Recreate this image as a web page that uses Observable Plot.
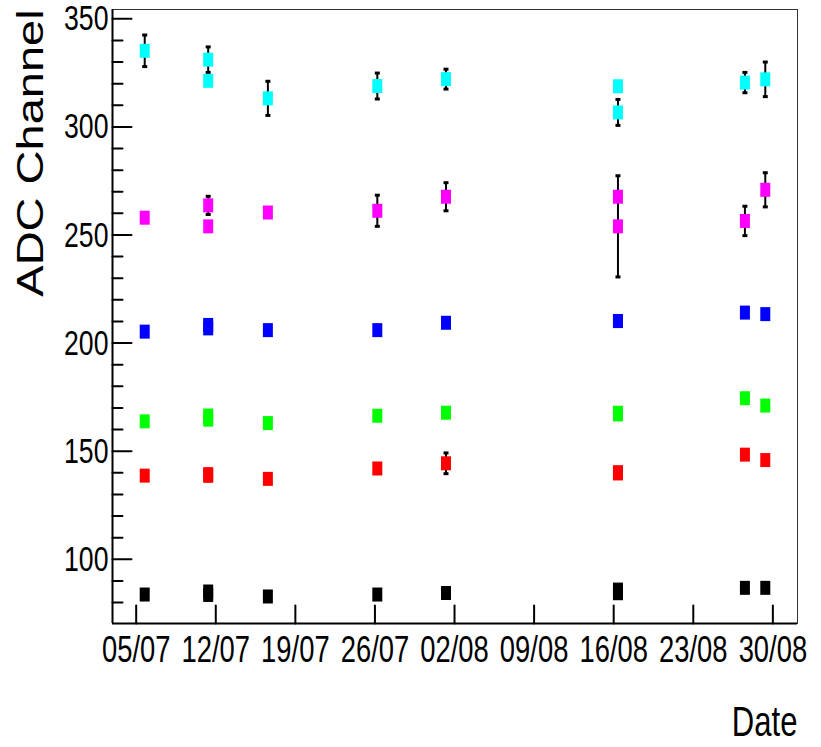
<!DOCTYPE html>
<html>
<head>
<meta charset="utf-8">
<script src="https://cdn.jsdelivr.net/npm/d3@7"></script>
<script src="https://cdn.jsdelivr.net/npm/@observablehq/plot@0.6"></script>
<style>
  html, body { margin: 0; padding: 0; background: #fff; }
  #chart svg { display: block; background: #fff; }
</style>
</head>
<body>
<div id="chart"></div>
<script>
// Measurement times (two readings were taken on 11/07 and on 16/08)
const dates = [
  "2010-07-05T18:00Z", "2010-07-11T08:00Z", "2010-07-11T08:00Z", "2010-07-16T14:00Z",
  "2010-07-26T05:00Z", "2010-08-01T06:00Z", "2010-08-16T09:00Z", "2010-08-16T09:00Z",
  "2010-08-27T13:00Z", "2010-08-29T08:00Z"
];

// One entry per channel, top to bottom
const seriesNames  = ["cyan", "magenta", "blue", "green", "red", "black"];
const seriesColors = ["#00ffff", "#ff00ff", "#0000ff", "#00ff00", "#ff0000", "#000000"];

// ADC peak positions and their uncertainties (0 = no error bar drawn)
const cyanValues    = [335.2, 331.1, 321.3, 313.2, 318.9, 322.1, 318.8, 306.7, 320.5, 322.0];
const cyanErrors    = [7.3, 5.9, 0, 7.9, 6.0, 4.6, 0, 6.0, 4.7, 8.0];
const magentaValues = [258.0, 263.7, 254.0, 260.4, 261.2, 267.7, 267.7, 254.0, 256.5, 270.9];
const magentaErrors = [0, 4.2, 0, 0, 7.2, 6.5, 0, 23.4, 6.8, 7.9];
const blueValues    = [205.3, 208.4, 206.8, 206.0, 206.0, 209.4, 210.2, 210.2, 214.1, 213.4];
const blueErrors    = [0, 0, 0, 0, 0, 0, 0, 0, 0, 0];
const greenValues   = [163.8, 166.5, 164.6, 163.0, 166.4, 167.8, 167.8, 167.0, 174.5, 171.1];
const greenErrors   = [0, 0, 0, 0, 0, 0, 0, 0, 0, 0];
const redValues     = [138.7, 139.4, 138.6, 137.2, 142.0, 144.4, 140.3, 139.7, 148.4, 145.9];
const redErrors     = [0, 0, 0, 0, 0, 4.8, 0, 0, 0, 0];
const blackValues   = [83.7, 85.1, 83.5, 82.8, 83.7, 84.4, 86.0, 84.3, 86.8, 86.8];
const blackErrors   = [0, 0, 0, 0, 0, 0, 0, 0, 0, 0];

// Axes
const xTickDates = ["2010-07-05", "2010-07-12", "2010-07-19", "2010-07-26", "2010-08-02",
                    "2010-08-09", "2010-08-16", "2010-08-23", "2010-08-30"];
const yMajorTicks = [100, 150, 200, 250, 300, 350];
const yMinorTicks = [80, 90, 110, 120, 130, 140, 160, 170, 180, 190, 210, 220, 230, 240,
                     260, 270, 280, 290, 310, 320, 330, 340];
const xDomain = ["2010-07-02T22:00Z", "2010-09-01T04:00Z"];
const yDomain = [70.3, 354.3];
const xLabel = "Date";
const yLabel = "ADC Channel";

const valueSets = [cyanValues, magentaValues, blueValues, greenValues, redValues, blackValues];
const errorSets = [cyanErrors, magentaErrors, blueErrors, greenErrors, redErrors, blackErrors];

const points = [];
seriesNames.forEach((name, s) => {
  valueSets[s].forEach((v, i) => {
    points.push({series: name, color: seriesColors[s], date: new Date(dates[i]), value: v, err: errorSets[s][i]});
  });
});
const withErr = points.filter(d => d.err > 0);
const xTicks = xTickDates.map(d => new Date(d + "T00:00Z"));

// Filled rectangular marker, slightly taller than wide
const boxMarker = {draw(ctx) { ctx.rect(-5, -7, 10, 14); }};
// Small end cap on error bars
const capMarker = {draw(ctx) { ctx.rect(-2.5, -1.5, 5, 3); }};
// Straight tick line for the inward-pointing axis ticks
const tickShape = {draw(ctx, l) { ctx.moveTo(0, 0); ctx.lineTo(0, -l); }};

const font = "'Liberation Sans', Arial, Helvetica, sans-serif";

const chart = Plot.plot({
  width: 821,
  height: 747,
  marginLeft: 112,
  marginRight: 24,
  marginTop: 9,
  marginBottom: 124,
  style: {fontFamily: font, color: "#000", background: "#fff"},
  x: {type: "utc", domain: xDomain.map(d => new Date(d))},
  y: {domain: yDomain},
  marks: [
    Plot.frame({stroke: "#333", strokeWidth: 1}),
    Plot.ruleX([new Date(xDomain[0])], {stroke: "#000", strokeWidth: 2}),
    Plot.ruleY([yDomain[0]], {stroke: "#000", strokeWidth: 2}),
    // inward ticks
    Plot.vector(yMajorTicks, {y: d => d, frameAnchor: "left", rotate: 90, length: 19, anchor: "start",
                              shape: tickShape, stroke: "#000", strokeWidth: 2}),
    Plot.vector(yMinorTicks, {y: d => d, frameAnchor: "left", rotate: 90, length: 10, anchor: "start",
                              shape: tickShape, stroke: "#000", strokeWidth: 2}),
    Plot.vector(xTicks, {x: d => d, frameAnchor: "bottom", rotate: 0, length: 18, anchor: "start",
                         shape: tickShape, stroke: "#000", strokeWidth: 2}),
    Plot.axisY(yMajorTicks, {tickSize: 0, tickPadding: 4, fontSize: 36, label: null, tickFormat: d => d}),
    Plot.axisX(xTicks, {tickSize: 0, tickPadding: 12, fontSize: 37, label: null, tickFormat: d3.utcFormat("%d/%m")}),
    // error bars
    Plot.ruleX(withErr, {x: "date", y1: d => d.value - d.err, y2: d => d.value + d.err, stroke: "#000", strokeWidth: 2}),
    Plot.dot(withErr, {x: "date", y: d => d.value - d.err, symbol: capMarker, fill: "#000", stroke: null}),
    Plot.dot(withErr, {x: "date", y: d => d.value + d.err, symbol: capMarker, fill: "#000", stroke: null}),
    // measurements
    Plot.dot(points, {x: "date", y: "value", symbol: boxMarker, fill: "color", stroke: null}),
    // axis titles
    Plot.text([xLabel], {frameAnchor: "bottom-right", dy: 112, textAnchor: "end", lineAnchor: "bottom", fontSize: 42, fill: "#000"}),
    Plot.text([yLabel], {frameAnchor: "top-left", dx: -70, dy: 143.5, rotate: -90, textAnchor: "middle", lineAnchor: "bottom", fontSize: 47, fill: "#000"})
  ]
});

// Narrow lettering: squeeze every label horizontally about its anchor
const squeeze = 0.74, squeezeTitle = 0.8;
d3.select(chart).selectAll("text").each(function () {
  const t = this.getAttribute("transform") || "";
  if (t.includes("rotate(-90)")) {
    this.setAttribute("transform", t.replace("rotate(-90)", `scale(${squeezeTitle},1) rotate(-90)`));
  } else {
    this.setAttribute("transform", `${t} scale(${squeeze},1)`);
  }
});

document.getElementById("chart").appendChild(chart);
</script>
</body>
</html>
